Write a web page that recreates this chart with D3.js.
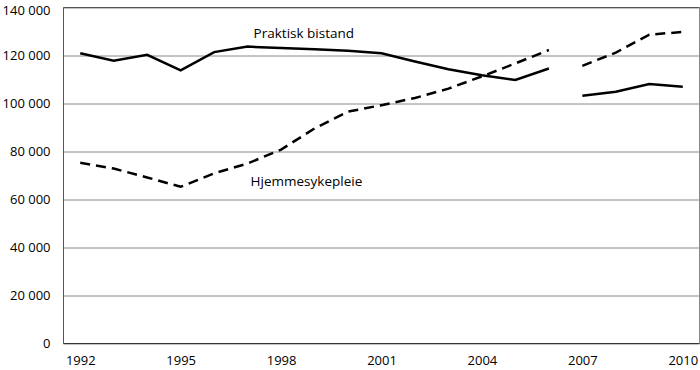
<!DOCTYPE html>
<html>
<head>
<meta charset="utf-8">
<script src="https://cdn.jsdelivr.net/npm/d3@7/dist/d3.min.js"></script>
<style>
  html, body { margin: 0; padding: 0; background: #fff; }
  svg { display: block; font-family: "Open Sans", "Noto Sans", sans-serif; }
</style>
</head>
<body>
<svg id="chart" width="700" height="370"></svg>
<script>
// ---- data ----
const years = [1992, 1993, 1994, 1995, 1996, 1997, 1998, 1999, 2000, 2001,
               2002, 2003, 2004, 2005, 2006, 2007, 2008, 2009, 2010];
const praktiskBistand = [120900, 117800, 120300, 113800, 121400, 123700, 123100, 122600, 122000, 120900,
                         117500, 114300, 111800, 109800, 114600, 103200, 104900, 108100, 107000];
const hjemmesykepleie = [75300, 72900, 69200, 65300, 70900, 75000, 80800, 89600, 96600, 99300,
                         102300, 106200, 111300, 116700, 122300, 115700, 121200, 128700, 129800];
const seriesBreakYear = 2007; // series break: 2006 and 2007 not connected
const xTickLabels = [1992, 1995, 1998, 2001, 2004, 2007, 2010];
const yTicks = [0, 20000, 40000, 60000, 80000, 100000, 120000, 140000];
const seriesNames = ["Praktisk bistand", "Hjemmesykepleie"];

// ---- layout ----
const svg = d3.select("#chart");
const mLeft = 63.5, mRight = 699.5, mTop = 7.5, mBottom = 343.5;

const x = d3.scalePoint().domain(years).range([mLeft, mRight]).padding(0.5);
const y = d3.scaleLinear().domain([0, 140000]).range([mBottom, mTop]);

const fmt = d => d3.format(",")(d).replace(/,/g, " ");

// gridlines
const grid = svg.append("g").attr("transform", `translate(${mLeft},0)`)
  .call(d3.axisLeft(y).tickValues(yTicks).tickSize(-(mRight - mLeft)).tickFormat(""));
grid.select(".domain").remove();
grid.selectAll("line").attr("stroke", "#8a8a8a").attr("stroke-width", 1);

// frame
svg.append("line").attr("x1", mRight).attr("x2", mRight).attr("y1", mTop).attr("y2", mBottom)
  .attr("stroke", "#8a8a8a");
svg.append("line").attr("x1", mLeft).attr("x2", mRight).attr("y1", mTop).attr("y2", mTop)
  .attr("stroke", "#555");
svg.append("line").attr("x1", mLeft).attr("x2", mLeft).attr("y1", mTop).attr("y2", mBottom)
  .attr("stroke", "#555");
svg.append("line").attr("x1", mLeft).attr("x2", mRight).attr("y1", mBottom).attr("y2", mBottom)
  .attr("stroke", "#333");

// y axis labels
const yAxis = svg.append("g").attr("transform", `translate(${mLeft},0)`)
  .call(d3.axisLeft(y).tickValues(yTicks).tickSize(0).tickPadding(13).tickFormat(fmt));
yAxis.select(".domain").remove();
yAxis.selectAll("text").attr("font-size", 13).attr("fill", "#000")
  .attr("font-family", "'Open Sans', sans-serif");
// keep the topmost label fully inside the picture
yAxis.selectAll(".tick").filter(d => d === 140000).select("text").attr("dy", "0.5em");

// x axis labels
const xAxis = svg.append("g").attr("transform", `translate(0,${mBottom})`)
  .call(d3.axisBottom(x).tickValues(xTickLabels).tickSize(0).tickPadding(12));
xAxis.select(".domain").remove();
xAxis.selectAll("text").attr("font-size", 13).attr("fill", "#000")
  .attr("font-family", "'Open Sans', sans-serif");

// lines
const line = d3.line().x(d => x(d.year)).y(d => y(d.value));
function segments(values) {
  const pts = years.map((yr, i) => ({ year: yr, value: values[i] }));
  return [pts.filter(p => p.year < seriesBreakYear), pts.filter(p => p.year >= seriesBreakYear)];
}
const styles = [
  { data: praktiskBistand, dash: null },
  { data: hjemmesykepleie, dash: "10,6" }
];
styles.forEach(s => {
  segments(s.data).forEach(seg => {
    svg.append("path")
      .attr("d", line(seg))
      .attr("fill", "none")
      .attr("stroke", "#000")
      .attr("stroke-width", 2.5)
      .attr("stroke-dasharray", s.dash);
  });
});

// series labels
svg.append("text").attr("x", x(1997) + 6).attr("y", y(128700) + 3)
  .text(seriesNames[0]).attr("font-size", 13.5).attr("fill", "#000");
svg.append("text").attr("x", x(1997) + 3).attr("y", y(67300) + 4)
  .text(seriesNames[1]).attr("font-size", 13.5).attr("fill", "#000");
</script>
</body>
</html>
